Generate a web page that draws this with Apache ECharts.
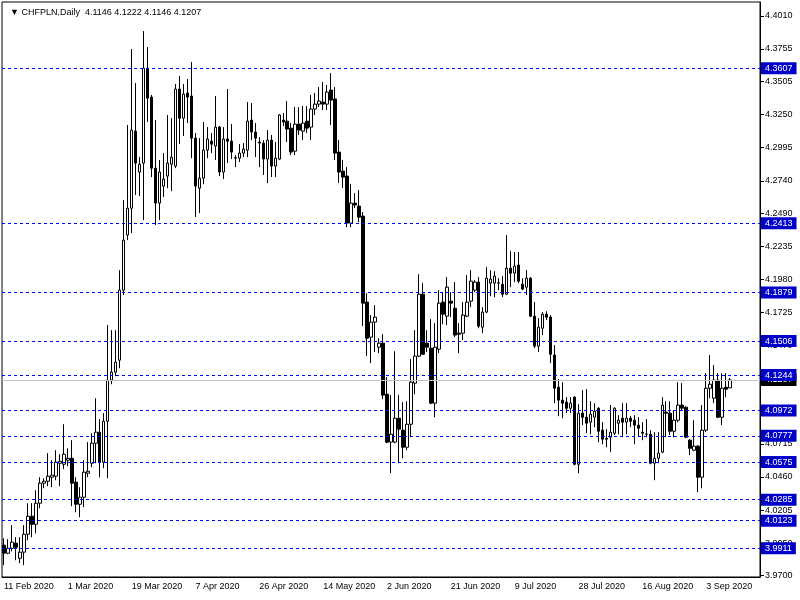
<!DOCTYPE html>
<html><head><meta charset="utf-8">
<script src="https://cdn.jsdelivr.net/npm/echarts@6/dist/echarts.min.js"></script>
<style>html,body{margin:0;padding:0;background:#fff}#c{width:800px;height:600px}</style>
</head><body><div id="c"></div>
<script>
const symbolName = 'CHFPLN,Daily';
const firstDate = [2020, 1, 11]; // 11 Feb 2020, daily bars incl. Sundays (no Saturdays)
const totalSlots = 190;          // bar slots incl. empty right margin

const open = [3.9935,3.9873,3.9911,3.9950,3.9834,3.9881,4.0019,4.0158,4.0096,4.0258,
4.0412,4.0427,4.0458,4.0466,4.0566,4.0558,4.0589,4.0604,4.0420,4.0250,
4.0304,4.0489,4.0566,4.0720,4.0805,4.0574,4.0889,4.1205,4.1267,4.1359,
4.1898,4.2322,4.2529,4.3122,4.2807,4.2876,4.3607,4.3384,4.2837,4.2568,
4.2699,4.2776,4.2868,4.2853,4.3446,4.3222,4.3415,4.3392,4.3068,4.2683,
4.2760,4.2976,4.3045,4.3007,4.3153,4.2807,4.3061,4.3045,4.2914,4.2914,
4.2953,4.2976,4.3207,4.3115,4.3038,4.3030,4.2907,4.3053,4.2853,4.2907,
4.3207,4.3199,4.3145,4.2968,4.3176,4.3122,4.3199,4.3153,4.3292,4.3330,
4.3346,4.3330,4.3438,4.3369,4.2961,4.2814,4.2776,4.2414,4.2568,4.2545,
4.2468,4.1806,4.1536,4.1652,4.1459,4.1490,4.1097,4.0728,4.0728,4.0912,
4.0820,4.0689,4.0866,4.1182,4.1390,4.1867,4.1490,4.1451,4.1028,4.1444,
4.1806,4.1698,4.1813,4.1759,4.1567,4.1567,4.1698,4.1813,4.1898,4.1960,
4.1613,4.1729,4.1952,4.1952,4.1952,4.1944,4.1867,4.2067,4.2029,4.2091,
4.1944,4.1921,4.1990,4.1698,4.1467,4.1605,4.1713,4.1690,4.1398,4.1151,
4.1051,4.1036,4.0989,4.1074,4.0558,4.0951,4.0920,4.0882,4.0920,4.0989,
4.0820,4.0758,4.0766,4.0797,4.0874,4.0912,4.0882,4.0912,4.0897,4.0859,
4.0805,4.0789,4.0789,4.0566,4.0604,4.0651,4.0959,4.0951,4.0812,4.0897,
4.1013,4.0997,4.0743,4.0666,4.0697,4.0458,4.0820,4.1143,4.1066,4.1205,
4.0920,4.1151,4.1146];

const high = [3.9988,3.9981,4.0089,3.9996,3.9996,4.0089,4.0258,4.0258,4.0358,4.0458,
4.0450,4.0643,4.0589,4.0666,4.0635,4.0866,4.0681,4.0743,4.0458,4.0381,
4.0589,4.0728,4.0797,4.1066,4.0905,4.0951,4.1629,4.1590,4.1590,4.2052,
4.2591,4.3169,4.3754,4.3492,4.2922,4.3892,4.3769,4.3400,4.3207,4.2899,
4.2953,4.3246,4.3222,4.3484,4.3546,4.3484,4.3523,4.3654,4.3107,4.3068,
4.3192,4.3153,4.3107,4.3392,4.3161,4.3153,4.3446,4.3176,4.2938,4.3022,
4.3030,4.3346,4.3338,4.3184,4.3076,4.3053,4.3130,4.3092,4.3038,4.3253,
4.3261,4.3353,4.3184,4.3307,4.3307,4.3315,4.3315,4.3400,4.3415,4.3461,
4.3500,4.3477,4.3569,4.3461,4.3053,4.2899,4.2845,4.2714,4.2645,4.2668,
4.2499,4.1875,4.1706,4.1783,4.1528,4.1559,4.1228,4.1090,4.1428,4.1090,
4.1036,4.1043,4.1367,4.1590,4.2021,4.1952,4.1590,4.1675,4.1644,4.1898,
4.1883,4.1998,4.1883,4.1960,4.1644,4.1806,4.2014,4.2052,4.1975,4.1998,
4.1767,4.2075,4.2052,4.2044,4.1990,4.2006,4.2322,4.2198,4.2191,4.2191,
4.1990,4.2052,4.1998,4.1806,4.1682,4.1729,4.1736,4.1706,4.1475,4.1213,
4.1190,4.1074,4.1074,4.1082,4.1020,4.1128,4.1136,4.1043,4.1028,4.0997,
4.0882,4.0828,4.1013,4.0997,4.0936,4.1028,4.1028,4.0928,4.0936,4.0920,
4.0882,4.0905,4.0820,4.0805,4.0805,4.1074,4.1043,4.1043,4.0974,4.1190,
4.1182,4.1005,4.0751,4.0897,4.0705,4.1013,4.1259,4.1398,4.1321,4.1259,
4.1259,4.1259,4.1222];

const low = [3.9781,3.9865,3.9888,3.9819,3.9796,3.9781,3.9973,3.9996,4.0027,4.0219,
4.0373,4.0389,4.0381,4.0435,4.0389,4.0520,4.0543,4.0235,4.0189,4.0150,
4.0227,4.0458,4.0535,4.0566,4.0458,4.0527,4.0450,4.1174,4.1236,4.1297,
4.1860,4.2283,4.2337,4.2630,4.2622,4.2437,4.3192,4.2768,4.2399,4.2437,
4.2614,4.2683,4.2660,4.2837,4.3022,4.3084,4.3184,4.2914,4.2460,4.2491,
4.2714,4.2914,4.2953,4.2899,4.2776,4.2753,4.2876,4.2907,4.2845,4.2884,
4.2922,4.2922,4.3053,4.2922,4.2845,4.2784,4.2722,4.2768,4.2768,4.2899,
4.3161,4.3038,4.2938,4.2938,4.3092,4.3053,4.3107,4.3053,4.3246,4.3307,
4.3284,4.3284,4.3169,4.2899,4.2722,4.2683,4.2383,4.2383,4.2529,4.2422,
4.1621,4.1390,4.1336,4.1421,4.1413,4.1059,4.0720,4.0489,4.0720,4.0566,
4.0604,4.0666,4.0766,4.1097,4.1382,4.1398,4.1421,4.1020,4.0920,4.1413,
4.1636,4.1629,4.1690,4.1536,4.1413,4.1513,4.1690,4.1767,4.1883,4.1605,
4.1567,4.1721,4.1852,4.1844,4.1898,4.1844,4.1860,4.1921,4.1960,4.1952,
4.1898,4.1860,4.1690,4.1451,4.1421,4.1552,4.1667,4.1336,4.1028,4.0928,
4.0912,4.0951,4.0951,4.0550,4.0489,4.0859,4.0797,4.0789,4.0843,4.0728,
4.0712,4.0689,4.0651,4.0782,4.0789,4.0766,4.0789,4.0843,4.0712,4.0766,
4.0743,4.0766,4.0558,4.0435,4.0566,4.0643,4.0766,4.0782,4.0766,4.0882,
4.0974,4.0758,4.0628,4.0658,4.0343,4.0373,4.0805,4.1066,4.1028,4.0912,
4.0859,4.1074,4.1146];

const close = [3.9873,3.9911,3.9958,3.9919,3.9881,4.0019,4.0158,4.0096,4.0258,4.0412,
4.0427,4.0466,4.0474,4.0574,4.0581,4.0635,4.0604,4.0412,4.0250,4.0304,
4.0497,4.0504,4.0720,4.0805,4.0574,4.0889,4.1205,4.1267,4.1344,4.1898,
4.2283,4.2529,4.3130,4.2876,4.2868,4.3607,4.3376,4.2837,4.2568,4.2807,
4.2753,4.2876,4.2922,4.3446,4.3222,4.3407,4.3384,4.3068,4.2699,4.2760,
4.2976,4.3061,4.3022,4.3153,4.2807,4.3061,4.3045,4.2961,4.2918,4.2953,
4.2984,4.3199,4.3115,4.3068,4.3030,4.2907,4.3053,4.2853,4.2914,4.3246,
4.3192,4.3138,4.2961,4.3176,4.3130,4.3184,4.3145,4.3292,4.3330,4.3353,
4.3330,4.3423,4.3361,4.2953,4.2807,4.2768,4.2414,4.2568,4.2553,4.2460,
4.1798,4.1528,4.1652,4.1690,4.1490,4.1090,4.0728,4.0789,4.0912,4.0828,
4.0689,4.0866,4.1190,4.1390,4.1867,4.1405,4.1459,4.1028,4.1459,4.1798,
4.1713,4.1921,4.1798,4.1552,4.1559,4.1706,4.1806,4.1967,4.1960,4.1621,
4.1729,4.1990,4.1983,4.2006,4.1955,4.1867,4.2067,4.2029,4.2083,4.1967,
4.1906,4.1990,4.1698,4.1467,4.1613,4.1713,4.1690,4.1405,4.1143,4.1051,
4.1028,4.0989,4.1028,4.0558,4.0951,4.0920,4.0874,4.0943,4.0966,4.0812,
4.0751,4.0751,4.0805,4.0989,4.0897,4.0882,4.0912,4.0889,4.0859,4.0835,
4.0797,4.0789,4.0566,4.0604,4.0643,4.1013,4.0951,4.0812,4.0897,4.1013,
4.0989,4.0766,4.0681,4.0697,4.0458,4.0820,4.1143,4.1174,4.1205,4.0920,
4.1143,4.1136,4.1207];

const levels = [4.3607, 4.2413, 4.1879, 4.1506, 4.1244, 4.0972, 4.0777, 4.0575, 4.0285, 4.0123, 3.9911];
const yTicks = [4.4010, 4.3755, 4.3505, 4.3250, 4.2995, 4.2740, 4.2490, 4.2235, 4.1980, 4.1725,
                4.1470, 4.1215, 4.0960, 4.0715, 4.0460, 4.0205, 3.9950, 3.9700];
const yMin = 3.9690, yMax = 4.4116;

// date categories
const MON = ['Jan','Feb','Mar','Apr','May','Jun','Jul','Aug','Sep','Oct','Nov','Dec'];
const dates = [];
let t = Date.UTC(firstDate[0], firstDate[1], firstDate[2]);
while (dates.length < totalSlots) {
  const d = new Date(t);
  if (d.getUTCDay() !== 6) dates.push(d.getUTCDate() + ' ' + MON[d.getUTCMonth()] + ' ' + d.getUTCFullYear());
  t += 86400000;
}

const candles = open.map((o, i) => [o, close[i], low[i], high[i]]);
const n = open.length;
const lastPrice = close[n - 1];
const FONT = 'Liberation Sans';

const lineBlue = '#0000ff';
const boxBlue = '#0000c8';
const markData = [
  { yAxis: lastPrice,
    lineStyle: { color: '#c0c0c0', type: 'solid', width: 1 },
    label: { backgroundColor: '#000000' } }
].concat(levels.map(v => ({
  yAxis: v,
  lineStyle: { color: lineBlue, type: [3, 3], width: 1 },
  label: { backgroundColor: boxBlue }
})));

const chart = echarts.init(document.getElementById('c'), null, { renderer: 'canvas' });
chart.setOption({
  animation: false,
  backgroundColor: '#ffffff',
  title: {
    text: '\u25BC ' + symbolName + '  ' + [open[n-1], high[n-1], low[n-1], close[n-1]].map(v => v.toFixed(4)).join(' '),
    left: 5, top: 3,
    textStyle: { fontSize: 9, fontWeight: 'normal', color: '#000', fontFamily: FONT }
  },
  grid: { left: 2, right: 40, top: 2, bottom: 23, show: true, borderColor: '#000', borderWidth: 1, backgroundColor: '#fff' },
  xAxis: {
    type: 'category', data: dates, boundaryGap: true,
    axisLine: { lineStyle: { color: '#000', width: 1 } },
    axisTick: { alignWithLabel: true, interval: 15, length: 4, lineStyle: { color: '#000' } },
    axisLabel: { interval: 15, align: 'left', color: '#000', fontSize: 9, fontFamily: FONT, margin: 5 },
    splitLine: { show: false }
  },
  yAxis: {
    type: 'value', position: 'right', min: yMin, max: yMax, scale: true,
    axisLine: { show: true, lineStyle: { color: '#000', width: 1 } },
    axisTick: { show: true, length: 4, customValues: yTicks, lineStyle: { color: '#000' } },
    axisLabel: { customValues: yTicks, formatter: v => v.toFixed(4), color: '#000', fontSize: 9, fontFamily: FONT, margin: 5 },
    splitLine: { show: false }
  },
  series: [{
    type: 'candlestick',
    data: candles,
    barWidth: 3,
    itemStyle: { color: '#ffffff', color0: '#000000', borderColor: '#000000', borderColor0: '#000000', borderWidth: 1 },
    markLine: {
      silent: true, symbol: ['none', 'none'], animation: false, precision: 4,
      label: {
        position: 'end', distance: 1, formatter: p => Number(p.value).toFixed(4),
        color: '#fff', fontSize: 9, fontFamily: FONT,
        padding: [2, 4, 1, 4]
      },
      data: markData
    }
  }]
});
</script></body></html>
